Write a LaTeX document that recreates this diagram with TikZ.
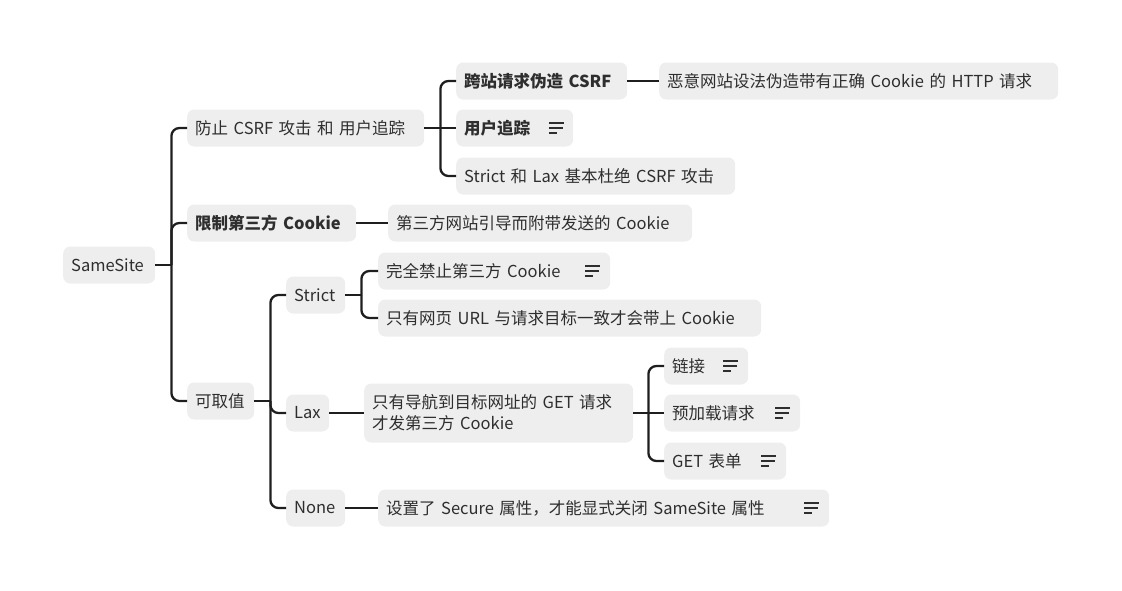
\documentclass[tikz,border=0pt]{standalone}
\usepackage{fontspec}
\setmainfont{Noto Sans CJK SC}
\usepackage{tikz}
\usetikzlibrary{calc}

\definecolor{topicbg}{HTML}{EEEEEE}
\definecolor{topicink}{HTML}{2E2E2E}
\definecolor{branchink}{HTML}{1E1E1E}

\tikzset{
  topic/.style={
    rectangle,
    rounded corners=7pt,
    fill=topicbg,
    text=topicink,
    anchor=west,
    inner xsep=8pt,
    inner ysep=0pt,
    minimum height=37pt,
    align=left,
    font=\fontsize{16.5}{21}\selectfont
  }
}
\tikzset{
  branch/.style={
    draw=branchink,
    line width=2.3pt,
    rounded corners=8pt
  }
}
\tikzset{
  noteicon/.pic={
    \draw[draw=topicink, line width=1.3pt] (0,-5) -- (15,-5);
    \draw[draw=topicink, line width=1.3pt] (0,0) -- (14,0);
    \draw[draw=topicink, line width=1.3pt] (0,5) -- (8,5);
  }
}

\begin{document}
\begin{tikzpicture}[x=1pt,y=-1pt]

    \useasboundingbox (0,0) rectangle (1122,590);

    % ------------------------------------------------------------
    % Topics
    % ------------------------------------------------------------

    \node[topic, text width=76pt] (root) at (63,265) {SameSite};

    \node[topic, text width=221pt] (guard) at (187,128) {防止 CSRF 攻击 和 用户追踪};
    \node[topic, text width=153pt, font=\fontsize{16.5}{21}\selectfont\bfseries] (limit) at (187,223) {限制第三方 Cookie};
    \node[topic, text width=51pt] (values) at (187,401) {可取值};

    \node[topic, text width=155pt, font=\fontsize{16.5}{21}\selectfont\bfseries] (csrf) at (456,81) {跨站请求伪造 CSRF};
    \node[topic, text width=383pt] (csrfnote) at (659,81) {恶意网站设法伪造带有正确 Cookie 的 HTTP 请求};
    \node[topic, text width=101pt, font=\fontsize{16.5}{21}\selectfont\bfseries] (track) at (456,128) {用户追踪};
    \node[topic, text width=263pt] (block) at (456,176) {Strict 和 Lax 基本杜绝 CSRF 攻击};

    \node[topic, text width=288pt] (thirdparty) at (388,223) {第三方网站引导而附带发送的 Cookie};

    % Strict
    \node[topic, text width=43pt] (strict) at (286,295) {Strict};
    \node[topic, text width=216pt] (strictban) at (378,271) {完全禁止第三方 Cookie};
    \node[topic, text width=367pt] (strictsame) at (378,318) {只有网页 URL 与请求目标一致才会带上 Cookie};

    % Lax
    \node[topic, text width=27pt] (lax) at (286,413) {Lax};
    \node[topic, text width=253pt, minimum height=59pt] (laxrule) at (364,413)
    {
      只有导航到目标网址的 GET 请求\\
      才发第三方 Cookie
    };
    \node[topic, text width=68pt] (laxlink) at (664,366) {链接};
    \node[topic, text width=120pt] (laxpre) at (664,413) {预加载请求};
    \node[topic, text width=106pt] (laxform) at (664,461) {GET 表单};

    % None
    \node[topic, text width=43pt] (none) at (286,508) {None};
    \node[topic, text width=435pt] (nonerule) at (378,508) {设置了 Secure 属性，才能显式关闭 SameSite 属性};

    % ------------------------------------------------------------
    % Note icons
    % ------------------------------------------------------------

    \pic at ([xshift=-24pt]track.east) {noteicon};
    \pic at ([xshift=-25pt]strictban.east) {noteicon};
    \pic at ([xshift=-25pt]laxlink.east) {noteicon};
    \pic at ([xshift=-25pt]laxpre.east) {noteicon};
    \pic at ([xshift=-25pt]laxform.east) {noteicon};
    \pic at ([xshift=-25pt]nonerule.east) {noteicon};

    % ------------------------------------------------------------
    % Branches
    % ------------------------------------------------------------

    % SameSite
    \draw[branch] (root.east) -- ([xshift=16pt]root.east);
    \draw[branch] ([xshift=16pt]root.east) |- (guard.west);
    \draw[branch] ([xshift=16pt]root.east) |- (limit.west);
    \draw[branch] ([xshift=16pt]root.east) |- (values.west);

    % CSRF and tracking
    \draw[branch] (guard.east) -- ([xshift=16pt]guard.east);
    \draw[branch] ([xshift=16pt]guard.east) |- (csrf.west);
    \draw[branch] ([xshift=16pt]guard.east) -- (track.west);
    \draw[branch] ([xshift=16pt]guard.east) |- (block.west);
    \draw[branch] (csrf.east) -- (csrfnote.west);

    % third party cookie
    \draw[branch] (limit.east) -- (thirdparty.west);

    % values
    \draw[branch] (values.east) -- ([xshift=16pt]values.east);
    \draw[branch] ([xshift=16pt]values.east) |- (strict.west);
    \draw[branch] ([xshift=16pt]values.east) |- (lax.west);
    \draw[branch] ([xshift=16pt]values.east) |- (none.west);

    \draw[branch] (strict.east) -- ([xshift=16pt]strict.east);
    \draw[branch] ([xshift=16pt]strict.east) |- (strictban.west);
    \draw[branch] ([xshift=16pt]strict.east) |- (strictsame.west);

    \draw[branch] (lax.east) -- (laxrule.west);
    \draw[branch] (laxrule.east) -- ([xshift=15pt]laxrule.east);
    \draw[branch] ([xshift=15pt]laxrule.east) |- (laxlink.west);
    \draw[branch] ([xshift=15pt]laxrule.east) -- (laxpre.west);
    \draw[branch] ([xshift=15pt]laxrule.east) |- (laxform.west);

    \draw[branch] (none.east) -- (nonerule.west);

\end{tikzpicture}
\end{document}
